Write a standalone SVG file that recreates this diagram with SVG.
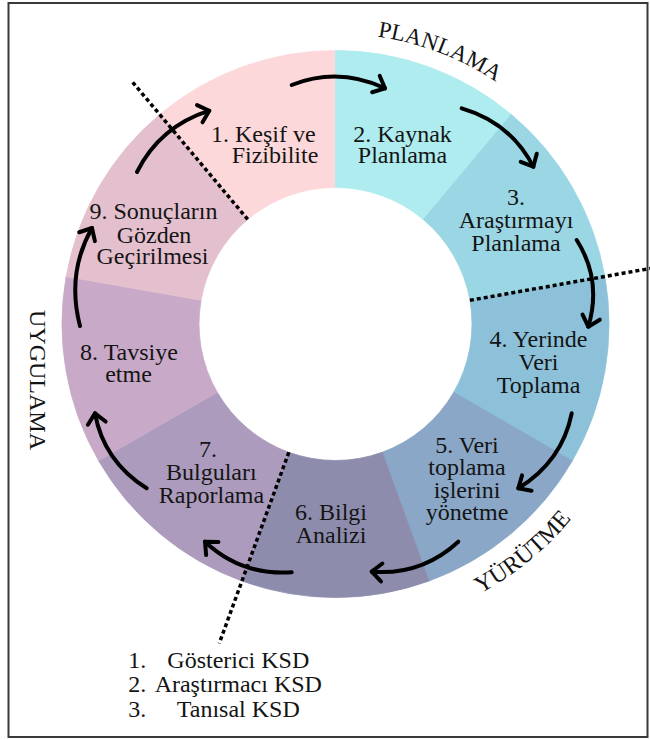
<svg xmlns="http://www.w3.org/2000/svg" width="650" height="740" viewBox="0 0 650 740">
<style>
  .t { font-family: "Liberation Serif", "Times New Roman", serif; font-size: 24px; fill: #141414; text-anchor: middle; }
  .lbl { font-family: "Liberation Serif", "Times New Roman", serif; font-size: 23px; fill: #141414; }
  .leg { font-family: "Liberation Serif", "Times New Roman", serif; font-size: 24px; fill: #141414; }
  .dot { fill: none; stroke: #000; stroke-width: 3.5; stroke-dasharray: 4 3; }
  .arr { fill: none; stroke: #000; stroke-width: 4; stroke-linecap: round; marker-end: url(#ah); }
</style>
<defs>
  <marker id="ah" markerUnits="userSpaceOnUse" markerWidth="30" markerHeight="30" viewBox="-15 -15 30 30" refX="0" refY="0" orient="auto">
    <path d="M-10,-9 L0,0 L-10,9" fill="none" stroke="#000" stroke-width="4" stroke-linecap="round" stroke-linejoin="round"/>
  </marker>
  <path id="pPlan" d="M285.06,37.91 A290.5,290.5 0 0 1 587.08,178.75"/>
  <path id="pYur" d="M388.64,625.35 A306,306 0 0 0 623.05,428.66"/>
</defs>
<rect x="8.5" y="3" width="639" height="734" fill="#fff" stroke="#3a3a3a" stroke-width="2"/>

<g id="ring">
  <g id="seg1"><path d="M159.70,114.49 A273.5,273.5 0 0 1 335.5,50.5 L335.5,187.5 A136.5,136.5 0 0 0 247.76,219.43 Z" fill="#fdd8da" stroke="#fdd8da" stroke-width="0.8"/></g>
  <g id="seg2"><path d="M335.5,50.5 A273.5,273.5 0 0 1 511.30,114.49 L423.24,219.43 A136.5,136.5 0 0 0 335.5,187.5 Z" fill="#aeecef" stroke="#aeecef" stroke-width="0.8"/></g>
  <g id="seg3"><path d="M511.30,114.49 A273.5,273.5 0 0 1 604.84,276.51 L469.93,300.30 A136.5,136.5 0 0 0 423.24,219.43 Z" fill="#9ad6e4" stroke="#9ad6e4" stroke-width="0.8"/></g>
  <g id="seg4"><path d="M604.84,276.51 A273.5,273.5 0 0 1 572.36,460.75 L453.71,392.25 A136.5,136.5 0 0 0 469.93,300.30 Z" fill="#8cc1d9" stroke="#8cc1d9" stroke-width="0.8"/></g>
  <g id="seg5"><path d="M572.36,460.75 A273.5,273.5 0 0 1 429.04,581.01 L382.19,452.27 A136.5,136.5 0 0 0 453.71,392.25 Z" fill="#8aa7c7" stroke="#8aa7c7" stroke-width="0.8"/></g>
  <g id="seg6"><path d="M429.04,581.01 A273.5,273.5 0 0 1 241.96,581.01 L288.81,452.27 A136.5,136.5 0 0 0 382.19,452.27 Z" fill="#8d8cad" stroke="#8d8cad" stroke-width="0.8"/></g>
  <g id="seg7"><path d="M241.96,581.01 A273.5,273.5 0 0 1 98.64,460.75 L217.29,392.25 A136.5,136.5 0 0 0 288.81,452.27 Z" fill="#ac9bbd" stroke="#ac9bbd" stroke-width="0.8"/></g>
  <g id="seg8"><path d="M98.64,460.75 A273.5,273.5 0 0 1 66.16,276.51 L201.07,300.30 A136.5,136.5 0 0 0 217.29,392.25 Z" fill="#c8a9c7" stroke="#c8a9c7" stroke-width="0.8"/></g>
  <g id="seg9"><path d="M66.16,276.51 A273.5,273.5 0 0 1 159.70,114.49 L247.76,219.43 A136.5,136.5 0 0 0 201.07,300.30 Z" fill="#e4c0cf" stroke="#e4c0cf" stroke-width="0.8"/></g>
</g>

<g id="dividers">
  <line class="dot" x1="247.76" y1="219.43" x2="131.74" y2="81.16"/>
  <line class="dot" x1="469.93" y1="300.30" x2="650" y2="268.5"/>
  <line class="dot" x1="288.81" y1="452.27" x2="219.21" y2="643.5"/>
</g>

<g id="connectors">
  <path class="arr" d="M291.7,85 Q338.6,66.65 385,88.3"/>
  <path class="arr" d="M461.7,108.3 Q510.6,122.4 533.3,166.7"/>
  <path class="arr" d="M576.7,240 Q602.2,280.1 588.3,326.7"/>
  <path class="arr" d="M571.7,413.3 Q562.1,461.2 518.3,488.3"/>
  <path class="arr" d="M458.3,541.7 Q421.5,575.6 371.7,571.7"/>
  <path class="arr" d="M291.7,572.3 Q241.3,575.7 205,541.7"/>
  <path class="arr" d="M146.7,488.3 Q103.6,461 95,413.3"/>
  <path class="arr" d="M80,326 Q66.3,273.3 92,228"/>
  <path class="arr" d="M137,172 Q159.9,126.4 209.3,110.7"/>
</g>

<g id="n1"><text class="t" x="263.3" y="141.7">1. Keşif ve</text><text class="t" x="275" y="163.3">Fizibilite</text></g>
<g id="n2"><text class="t" x="402.5" y="141.7">2. Kaynak</text><text class="t" x="402.5" y="163.3">Planlama</text></g>
<g id="n3"><text class="t" x="516" y="205">3.</text><text class="t" x="516" y="228.3">Araştırmayı</text><text class="t" x="516" y="250.7">Planlama</text></g>
<g id="n4"><text class="t" x="538.5" y="346.7">4. Yerinde</text><text class="t" x="538.5" y="370">Veri</text><text class="t" x="538.5" y="392.7">Toplama</text></g>
<g id="n5"><text class="t" x="467" y="452.7">5. Veri</text><text class="t" x="467" y="475">toplama</text><text class="t" x="467" y="498.3">işlerini</text><text class="t" x="467" y="520">yönetme</text></g>
<g id="n6"><text class="t" x="331" y="520">6. Bilgi</text><text class="t" x="331" y="543.3">Analizi</text></g>
<g id="n7"><text class="t" x="208" y="456.7">7.</text><text class="t" x="211.3" y="480">Bulguları</text><text class="t" x="211.5" y="503.3">Raporlama</text></g>
<g id="n8"><text class="t" x="129" y="360">8. Tavsiye</text><text class="t" x="128.5" y="381.7">etme</text></g>
<g id="n9"><text class="t" x="153.5" y="219.3">9. Sonuçların</text><text class="t" x="154" y="242.7">Gözden</text><text class="t" x="152.5" y="264">Geçirilmesi</text></g>

<g id="phase-labels">
  <text class="lbl" text-anchor="middle"><textPath href="#pPlan" startOffset="156.7">PLANLAMA</textPath></text>
  <text class="lbl" text-anchor="middle" style="font-size:24px"><textPath href="#pYur" startOffset="156.8">YÜRÜTME</textPath></text>
  <text class="lbl" text-anchor="middle" style="font-size:24px" transform="translate(30,380) rotate(90)">UYGULAMA</text>
</g>

<g id="legend">
  <text class="leg" x="128.3" y="668.3">1.</text><text class="leg" x="238.3" y="668.3" text-anchor="middle">Gösterici KSD</text>
  <text class="leg" x="128.3" y="691.7">2.</text><text class="leg" x="238.3" y="691.7" text-anchor="middle">Araştırmacı KSD</text>
  <text class="leg" x="128.3" y="716.7">3.</text><text class="leg" x="238.3" y="716.7" text-anchor="middle">Tanısal KSD</text>
</g>
</svg>
